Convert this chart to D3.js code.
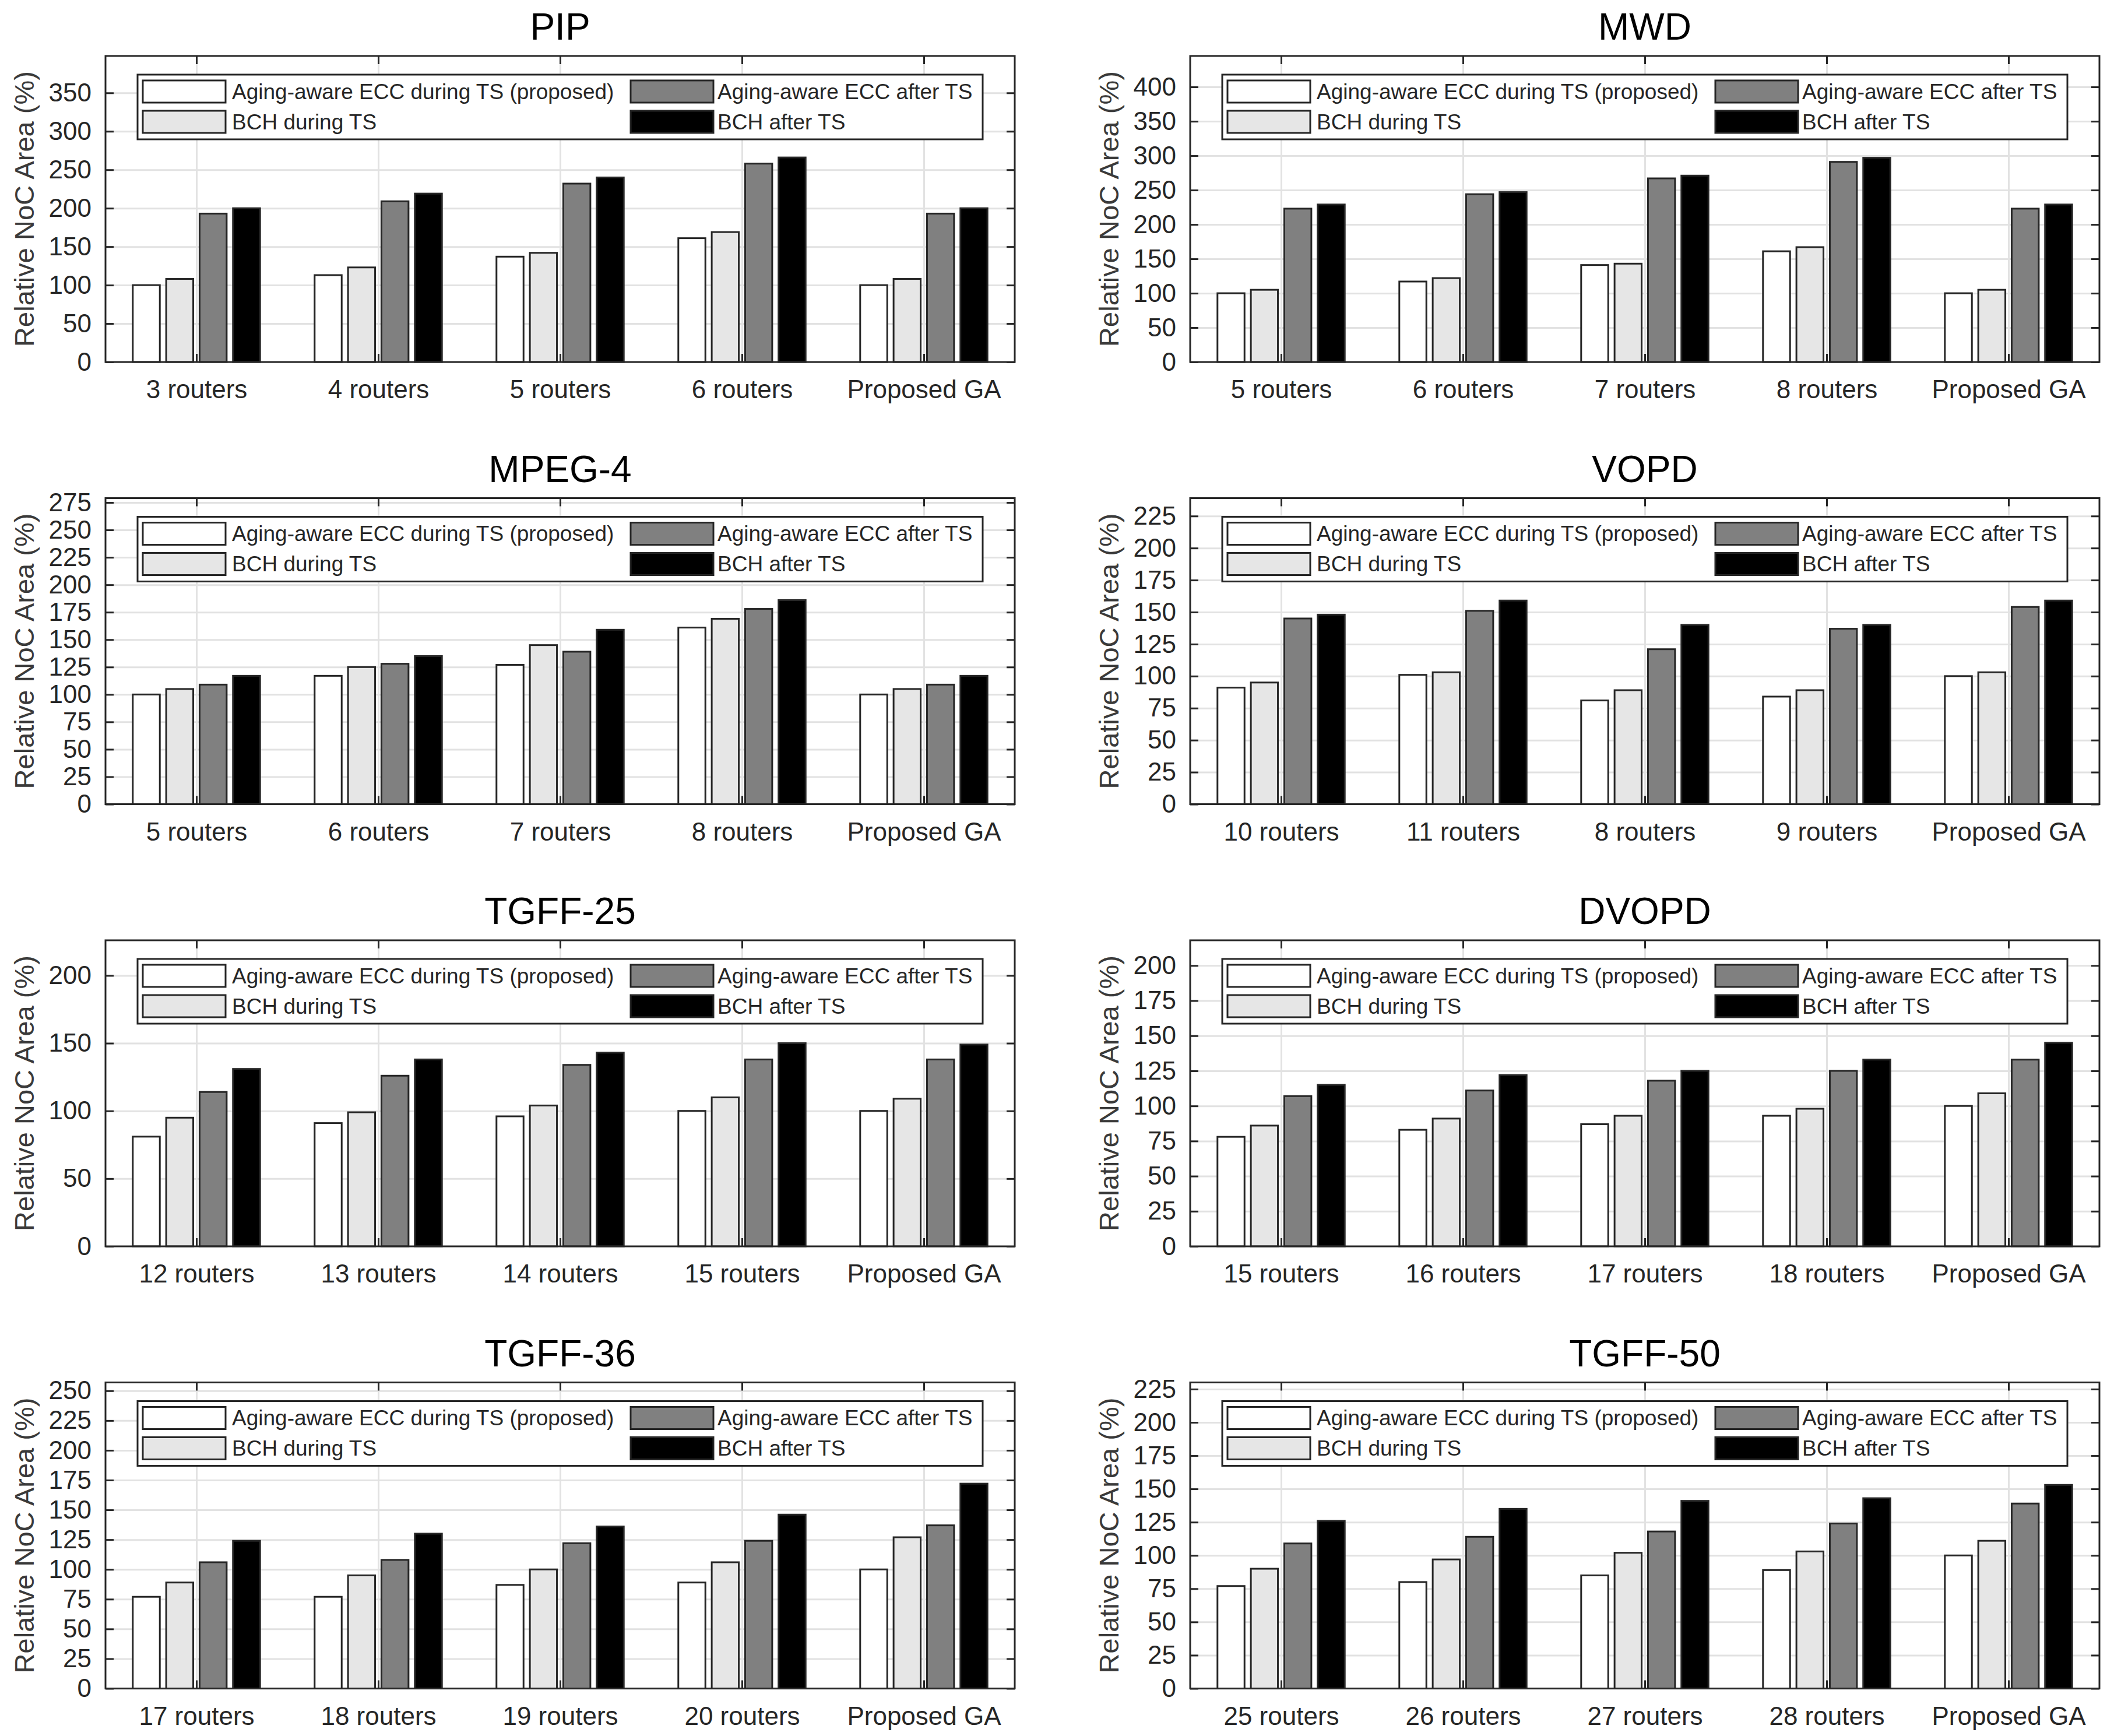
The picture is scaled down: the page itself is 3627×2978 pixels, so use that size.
<!DOCTYPE html>
<html>
<head>
<meta charset="utf-8">
<script src="https://cdn.jsdelivr.net/npm/d3@7/dist/d3.min.js"></script>
<style>
  body { margin: 0; background: #fff; }
  text { font-family: "Liberation Sans", Arial, sans-serif; }
</style>
</head>
<body>
<div class="main"></div>
<script>
// series order: ECC during TS, BCH during TS, ECC after TS, BCH after TS
var seriesNames = ["Aging-aware ECC during TS (proposed)", "BCH during TS",
                   "Aging-aware ECC after TS", "BCH after TS"];
var seriesColors = ["#ffffff", "#e6e6e6", "#808080", "#000000"];

var pipCats = ["3 routers", "4 routers", "5 routers", "6 routers", "Proposed GA"];
var pipEccDuring = [100, 113, 137, 161, 100];
var pipBchDuring = [108, 123, 142, 169, 108];
var pipEccAfter  = [193, 209, 232, 258, 193];
var pipBchAfter  = [200, 219, 240, 266, 200];
var pipTicks = [0, 50, 100, 150, 200, 250, 300, 350];

var mwdCats = ["5 routers", "6 routers", "7 routers", "8 routers", "Proposed GA"];
var mwdEccDuring = [100, 117, 141, 161, 100];
var mwdBchDuring = [105, 122, 143, 167, 105];
var mwdEccAfter  = [223, 244, 267, 291, 223];
var mwdBchAfter  = [229, 247, 271, 297, 229];
var mwdTicks = [0, 50, 100, 150, 200, 250, 300, 350, 400];

var mpegCats = ["5 routers", "6 routers", "7 routers", "8 routers", "Proposed GA"];
var mpegEccDuring = [100, 117, 127, 161, 100];
var mpegBchDuring = [105, 125, 145, 169, 105];
var mpegEccAfter  = [109, 128, 139, 178, 109];
var mpegBchAfter  = [117, 135, 159, 186, 117];
var mpegTicks = [0, 25, 50, 75, 100, 125, 150, 175, 200, 225, 250, 275];

var vopdCats = ["10 routers", "11 routers", "8 routers", "9 routers", "Proposed GA"];
var vopdEccDuring = [91, 101, 81, 84, 100];
var vopdBchDuring = [95, 103, 89, 89, 103];
var vopdEccAfter  = [145, 151, 121, 137, 154];
var vopdBchAfter  = [148, 159, 140, 140, 159];
var vopdTicks = [0, 25, 50, 75, 100, 125, 150, 175, 200, 225];

var tgff25Cats = ["12 routers", "13 routers", "14 routers", "15 routers", "Proposed GA"];
var tgff25EccDuring = [81, 91, 96, 100, 100];
var tgff25BchDuring = [95, 99, 104, 110, 109];
var tgff25EccAfter  = [114, 126, 134, 138, 138];
var tgff25BchAfter  = [131, 138, 143, 150, 149];
var tgff25Ticks = [0, 50, 100, 150, 200];

var dvopdCats = ["15 routers", "16 routers", "17 routers", "18 routers", "Proposed GA"];
var dvopdEccDuring = [78, 83, 87, 93, 100];
var dvopdBchDuring = [86, 91, 93, 98, 109];
var dvopdEccAfter  = [107, 111, 118, 125, 133];
var dvopdBchAfter  = [115, 122, 125, 133, 145];
var dvopdTicks = [0, 25, 50, 75, 100, 125, 150, 175, 200];

var tgff36Cats = ["17 routers", "18 routers", "19 routers", "20 routers", "Proposed GA"];
var tgff36EccDuring = [77, 77, 87, 89, 100];
var tgff36BchDuring = [89, 95, 100, 106, 127];
var tgff36EccAfter  = [106, 108, 122, 124, 137];
var tgff36BchAfter  = [124, 130, 136, 146, 172];
var tgff36Ticks = [0, 25, 50, 75, 100, 125, 150, 175, 200, 225, 250];

var tgff50Cats = ["25 routers", "26 routers", "27 routers", "28 routers", "Proposed GA"];
var tgff50EccDuring = [77, 80, 85, 89, 100];
var tgff50BchDuring = [90, 97, 102, 103, 111];
var tgff50EccAfter  = [109, 114, 118, 124, 139];
var tgff50BchAfter  = [126, 135, 141, 143, 153];
var tgff50Ticks = [0, 25, 50, 75, 100, 125, 150, 175, 200, 225];

var panels = [
  {title: "PIP", cats: pipCats, series: [pipEccDuring, pipBchDuring, pipEccAfter, pipBchAfter], ticks: pipTicks, yMax: 398},
  {title: "MWD", cats: mwdCats, series: [mwdEccDuring, mwdBchDuring, mwdEccAfter, mwdBchAfter], ticks: mwdTicks, yMax: 445},
  {title: "MPEG-4", cats: mpegCats, series: [mpegEccDuring, mpegBchDuring, mpegEccAfter, mpegBchAfter], ticks: mpegTicks, yMax: 279},
  {title: "VOPD", cats: vopdCats, series: [vopdEccDuring, vopdBchDuring, vopdEccAfter, vopdBchAfter], ticks: vopdTicks, yMax: 239},
  {title: "TGFF-25", cats: tgff25Cats, series: [tgff25EccDuring, tgff25BchDuring, tgff25EccAfter, tgff25BchAfter], ticks: tgff25Ticks, yMax: 226},
  {title: "DVOPD", cats: dvopdCats, series: [dvopdEccDuring, dvopdBchDuring, dvopdEccAfter, dvopdBchAfter], ticks: dvopdTicks, yMax: 218},
  {title: "TGFF-36", cats: tgff36Cats, series: [tgff36EccDuring, tgff36BchDuring, tgff36EccAfter, tgff36BchAfter], ticks: tgff36Ticks, yMax: 257},
  {title: "TGFF-50", cats: tgff50Cats, series: [tgff50EccDuring, tgff50BchDuring, tgff50EccAfter, tgff50BchAfter], ticks: tgff50Ticks, yMax: 230}
];

var width = 3627;
var height = 2978;
var colX = [181, 2042];
var rowY = [96, 854.5, 1613, 2371.5];
var plotW = 1560;
var plotH = 525;
var ink = "#262626";

var svg = d3.select(".main")
    .append("svg")
        .attr("width", width)
        .attr("height", height);

panels.forEach(function (p, i) {
    var g = svg.append("g")
        .attr("transform", "translate(" + colX[i % 2] + "," + rowY[Math.floor(i / 2)] + ")");

    var x = d3.scaleBand()
        .domain(p.cats)
        .range([0, plotW])
        .paddingInner(0.3)
        .paddingOuter(0.15);
    var xInner = d3.scaleBand()
        .domain(d3.range(seriesNames.length))
        .range([0, x.bandwidth()])
        .paddingInner(0.19);
    var y = d3.scaleLinear()
        .domain([0, p.yMax])
        .range([plotH, 0]);
    var catCenter = d3.scalePoint()
        .domain(p.cats)
        .range([x(p.cats[0]) + x.bandwidth() / 2, x(p.cats[p.cats.length - 1]) + x.bandwidth() / 2]);

    // grid
    g.append("g")
        .call(d3.axisLeft(y).tickValues(p.ticks).tickSize(-plotW).tickFormat(""))
        .call(a => a.select(".domain").remove())
        .selectAll("line").attr("stroke", "#e2e2e2").attr("stroke-width", 3);
    g.append("g")
        .call(d3.axisTop(catCenter).tickSize(-plotH).tickFormat(""))
        .call(a => a.select(".domain").remove())
        .selectAll("line").attr("stroke", "#e2e2e2").attr("stroke-width", 3);

    // bars
    var groups = g.selectAll(".grp")
        .data(p.cats)
        .enter()
        .append("g")
        .attr("transform", d => "translate(" + x(d) + ",0)");
    groups.selectAll("rect")
        .data((c, ci) => p.series.map((s, si) => ({si: si, v: s[ci]})))
        .enter()
        .append("rect")
        .attr("x", d => xInner(d.si))
        .attr("y", d => y(d.v))
        .attr("width", xInner.bandwidth())
        .attr("height", d => plotH - y(d.v))
        .attr("fill", d => seriesColors[d.si])
        .attr("stroke", ink)
        .attr("stroke-width", 3);

    // axes with inward ticks
    var yAxisL = g.append("g")
        .call(d3.axisLeft(y).tickValues(p.ticks).tickSize(-14).tickPadding(24));
    var yAxisR = g.append("g")
        .attr("transform", "translate(" + plotW + ",0)")
        .call(d3.axisRight(y).tickValues(p.ticks).tickSize(-14).tickFormat(""));
    var xAxisB = g.append("g")
        .attr("transform", "translate(0," + plotH + ")")
        .call(d3.axisBottom(catCenter).tickSize(-14).tickPadding(31));
    var xAxisT = g.append("g")
        .call(d3.axisTop(catCenter).tickSize(-14).tickFormat(""));
    [yAxisL, yAxisR, xAxisB, xAxisT].forEach(function (a) {
        a.select(".domain").remove();
        a.selectAll("line").attr("stroke", ink).attr("stroke-width", 3);
        a.selectAll("text")
            .attr("fill", ink)
            .style("font-size", "44px");
    });

    // box
    g.append("rect")
        .attr("width", plotW)
        .attr("height", plotH)
        .attr("fill", "none")
        .attr("stroke", ink)
        .attr("stroke-width", 3);

    // title
    g.append("text")
        .attr("x", plotW / 2)
        .attr("y", -28)
        .attr("text-anchor", "middle")
        .attr("fill", "#000")
        .style("font-size", "64px")
        .text(p.title);

    // y label
    g.append("text")
        .attr("transform", "translate(-139," + plotH / 2 + ") rotate(-90)")
        .attr("text-anchor", "middle")
        .attr("dy", "0.35em")
        .attr("fill", "#3a3a3a")
        .style("font-size", "47px")
        .text("Relative NoC Area (%)");

    // legend
    var leg = g.append("g").attr("transform", "translate(55,32)");
    leg.append("rect")
        .attr("width", 1450)
        .attr("height", 111)
        .attr("fill", "#fff")
        .attr("stroke", ink)
        .attr("stroke-width", 3);
    var item = leg.selectAll(".item")
        .data(seriesNames)
        .enter()
        .append("g")
        .attr("transform", (d, k) => "translate(" + (k < 2 ? 9 : 846) + "," + (k % 2 === 0 ? 10 : 62) + ")");
    item.append("rect")
        .attr("width", 142)
        .attr("height", 38)
        .attr("fill", (d, k) => seriesColors[k])
        .attr("stroke", ink)
        .attr("stroke-width", 3);
    item.append("text")
        .attr("x", (d, k) => k < 2 ? 153 : 149)
        .attr("y", 19)
        .attr("dy", "0.35em")
        .attr("fill", ink)
        .style("font-size", "37px")
        .text(d => d);
});
</script>
</body>
</html>
